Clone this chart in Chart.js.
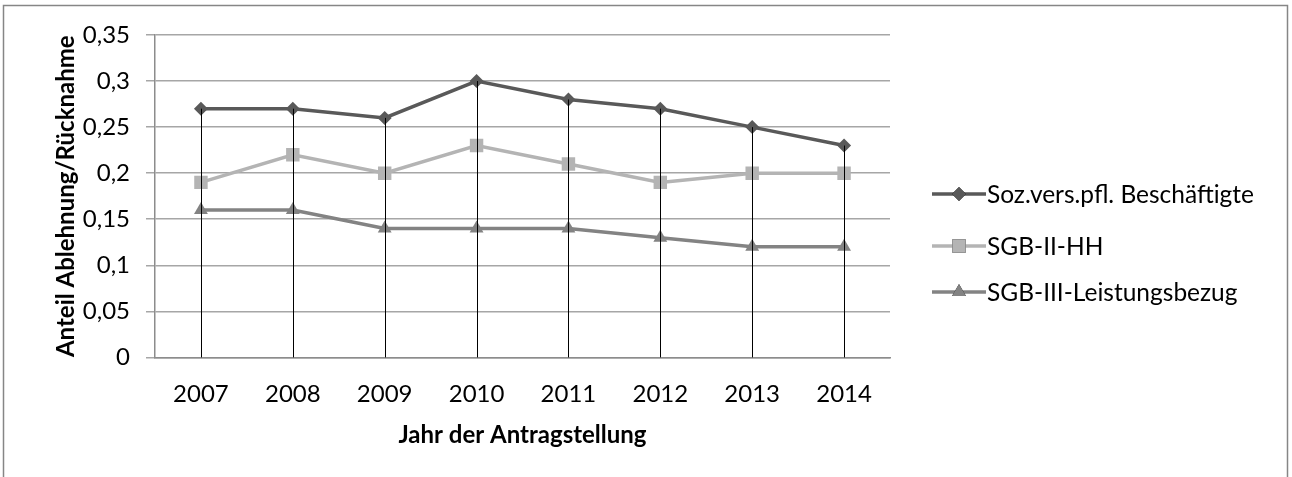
<!DOCTYPE html>
<html lang="de">

<head>
    <meta charset="UTF-8">
    <title>Anteil Ablehnung/Rücknahme</title>
    <style>
        * {
            margin: 0;
            padding: 0;
        }

        body {
            background: #fff;
        }

        #wrap {
            position: relative;
            width: 1292px;
            height: 477px;
        }
    </style>
</head>

<body>
    <div id="wrap"><canvas id="myChart" width="1292" height="477"></canvas></div>
</body>
<script src="https://cdn.jsdelivr.net/npm/chart.js@4/dist/chart.umd.min.js"></script>

<script>
    const years = ['2007', '2008', '2009', '2010', '2011', '2012', '2013', '2014'];
    const seriesNames = ['Soz.vers.pfl. Beschäftigte', 'SGB-II-HH', 'SGB-III-Leistungsbezug'];
    const sozVers = [0.27, 0.27, 0.26, 0.30, 0.28, 0.27, 0.25, 0.23];
    const sgb2 = [0.19, 0.22, 0.20, 0.23, 0.21, 0.19, 0.20, 0.20];
    const sgb3 = [0.16, 0.16, 0.14, 0.14, 0.14, 0.13, 0.12, 0.12];

    const fontFam = "Lato, 'Open Sans', sans-serif";
    const colors = ['#595959', '#b4b4b4', '#838383'];
    const markers = ['rectRot', 'rect', 'triangle'];
    const markerSize = [7, 9.5, 8];

    // outer frame + drop lines + legend with line and marker
    const extras = {
        id: 'extras',
        beforeDraw(chart) {
            const ctx = chart.ctx;
            ctx.save();
            ctx.strokeStyle = '#868686';
            ctx.lineWidth = 1.5;
            ctx.strokeRect(3.5, 5.5, 1284, 500);
            ctx.restore();
        },
        afterDatasetsDraw(chart) {
            const ctx = chart.ctx;
            const x = chart.scales.x, y = chart.scales.y;
            ctx.save();
            ctx.strokeStyle = '#000';
            ctx.lineWidth = 1;
            years.forEach((yr, i) => {
                const top = Math.max(sozVers[i], sgb2[i], sgb3[i]);
                const px = Math.round(x.getPixelForValue(i)) + 0.5;
                ctx.beginPath();
                ctx.moveTo(px, y.getPixelForValue(top));
                ctx.lineTo(px, y.bottom);
                ctx.stroke();
            });
            ctx.restore();
        },
        afterDraw(chart) {
            const ctx = chart.ctx;
            const rowY = [194, 246, 292];
            ctx.save();
            ctx.font = '24.5px ' + fontFam;
            ctx.textBaseline = 'middle';
            seriesNames.forEach((name, i) => {
                ctx.strokeStyle = colors[i];
                ctx.lineWidth = 3.5;
                ctx.beginPath();
                ctx.moveTo(932, rowY[i]);
                ctx.lineTo(986, rowY[i]);
                ctx.stroke();
                Chart.helpers.drawPoint(ctx, {
                    pointStyle: markers[i], radius: markerSize[i], rotation: 0, borderWidth: 0
                }, 959, rowY[i]);
                ctx.fillStyle = colors[i];
                ctx.fill();
                ctx.fillStyle = '#000';
                ctx.fillText(name, 987, rowY[i] + 1);
            });
            ctx.restore();
        }
    };

    const dataArr = [sozVers, sgb2, sgb3];

    new Chart('myChart', {
        type: 'line',
        data: {
            labels: years,
            datasets: dataArr.map((d, i) => ({
                label: seriesNames[i],
                data: d,
                borderColor: colors[i],
                backgroundColor: colors[i],
                borderWidth: 3.5,
                pointStyle: markers[i],
                pointRadius: markerSize[i],
                pointBorderWidth: 0,
                pointBackgroundColor: colors[i],
                tension: 0,
                fill: false
            }))
        },
        options: {
            responsive: false,
            animation: false,
            layout: { padding: { left: 52, right: 402, top: 35, bottom: 27 } },
            plugins: {
                legend: { display: false },
                tooltip: { enabled: false }
            },
            scales: {
                x: {
                    offset: true,
                    grid: { display: false },
                    border: { display: true, color: '#8c8c8c', width: 1.5 },
                    ticks: { color: '#000', font: { family: fontFam, size: 24 }, padding: 14 },
                    title: {
                        display: true, text: 'Jahr der Antragstellung', color: '#000',
                        font: { family: fontFam, size: 24, weight: 'bold' }, padding: { top: -1, bottom: 0 }
                    }
                },
                y: {
                    min: 0, max: 0.35,
                    grid: { color: '#a6a6a6', lineWidth: 1.5, tickLength: 9 },
                    border: { display: true, color: '#8c8c8c', width: 1.5 },
                    ticks: {
                        stepSize: 0.05, color: '#000', padding: 16,
                        font: { family: fontFam, size: 24 },
                        callback: v => String(+v.toFixed(2)).replace('.', ',')
                    },
                    title: {
                        display: true, text: 'Anteil Ablehnung/Rücknahme', color: '#000',
                        font: { family: fontFam, size: 24, weight: 'bold' }, padding: { top: 0, bottom: -14 }
                    }
                }
            }
        },
        plugins: [extras]
    });
</script>

</html>
